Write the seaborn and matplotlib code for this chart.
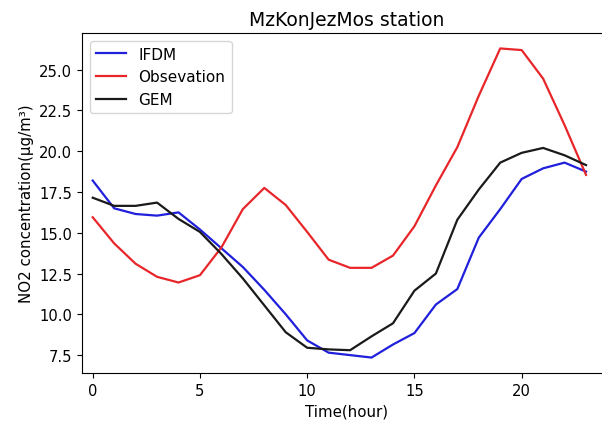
import numpy as np
import pandas as pd
import seaborn as sns
import matplotlib
matplotlib.use("Agg")
import matplotlib.pyplot as plt

hours = list(range(24))

ifdm = [18.2, 16.5, 16.15, 16.05, 16.25, 15.2, 14.05, 12.9, 11.5, 10.0,
        8.4, 7.65, 7.5, 7.35, 8.15, 8.85, 10.6, 11.55, 14.7, 16.45,
        18.3, 18.95, 19.3, 18.75]
observation = [15.95, 14.35, 13.1, 12.3, 11.95, 12.4, 14.1, 16.45, 17.75, 16.7,
               15.05, 13.35, 12.85, 12.85, 13.6, 15.4, 17.9, 20.25, 23.4, 26.3,
               26.2, 24.45, 21.6, 18.55]
gem = [17.15, 16.65, 16.65, 16.85, 15.85, 15.05, 13.7, 12.2, 10.55, 8.9,
       7.95, 7.85, 7.8, 8.65, 9.45, 11.45, 12.5, 15.8, 17.65, 19.3,
       19.9, 20.2, 19.75, 19.15]

series_names = ["IFDM", "Obsevation", "GEM"]
series_colors = ["#1f1fdc", "#e8262a", "#1a1a1a"]

df = pd.DataFrame({
    "hour": hours * 3,
    "value": ifdm + observation + gem,
    "source": sum([[n] * len(hours) for n in series_names], []),
})

fig = plt.figure(figsize=(6.02, 4.27), dpi=100)
# the axes run slightly past the right edge of the figure
ax = fig.add_axes([0.1362, 0.1241, 0.880, 0.7963])

sns.lineplot(data=df, x="hour", y="value", hue="source",
             hue_order=series_names, palette=series_colors,
             linewidth=1.6, ax=ax)

ax.set_xlim(-0.5, 24.2)
ax.set_xticks([0, 5, 10, 15, 20])
ax.set_yticks([7.5, 10.0, 12.5, 15.0, 17.5, 20.0, 22.5, 25.0])
ax.tick_params(labelsize=10.6)
ax.set_title("MzKonJezMos station", fontsize=13.5)
ax.set_xlabel("Time(hour)", fontsize=10.8)
ax.set_ylabel("NO2 concentration(μg/m³)", fontsize=10.8)
ax.legend(loc="upper left", fontsize=11, title=None)

fig.savefig("out.png", dpi=100)
